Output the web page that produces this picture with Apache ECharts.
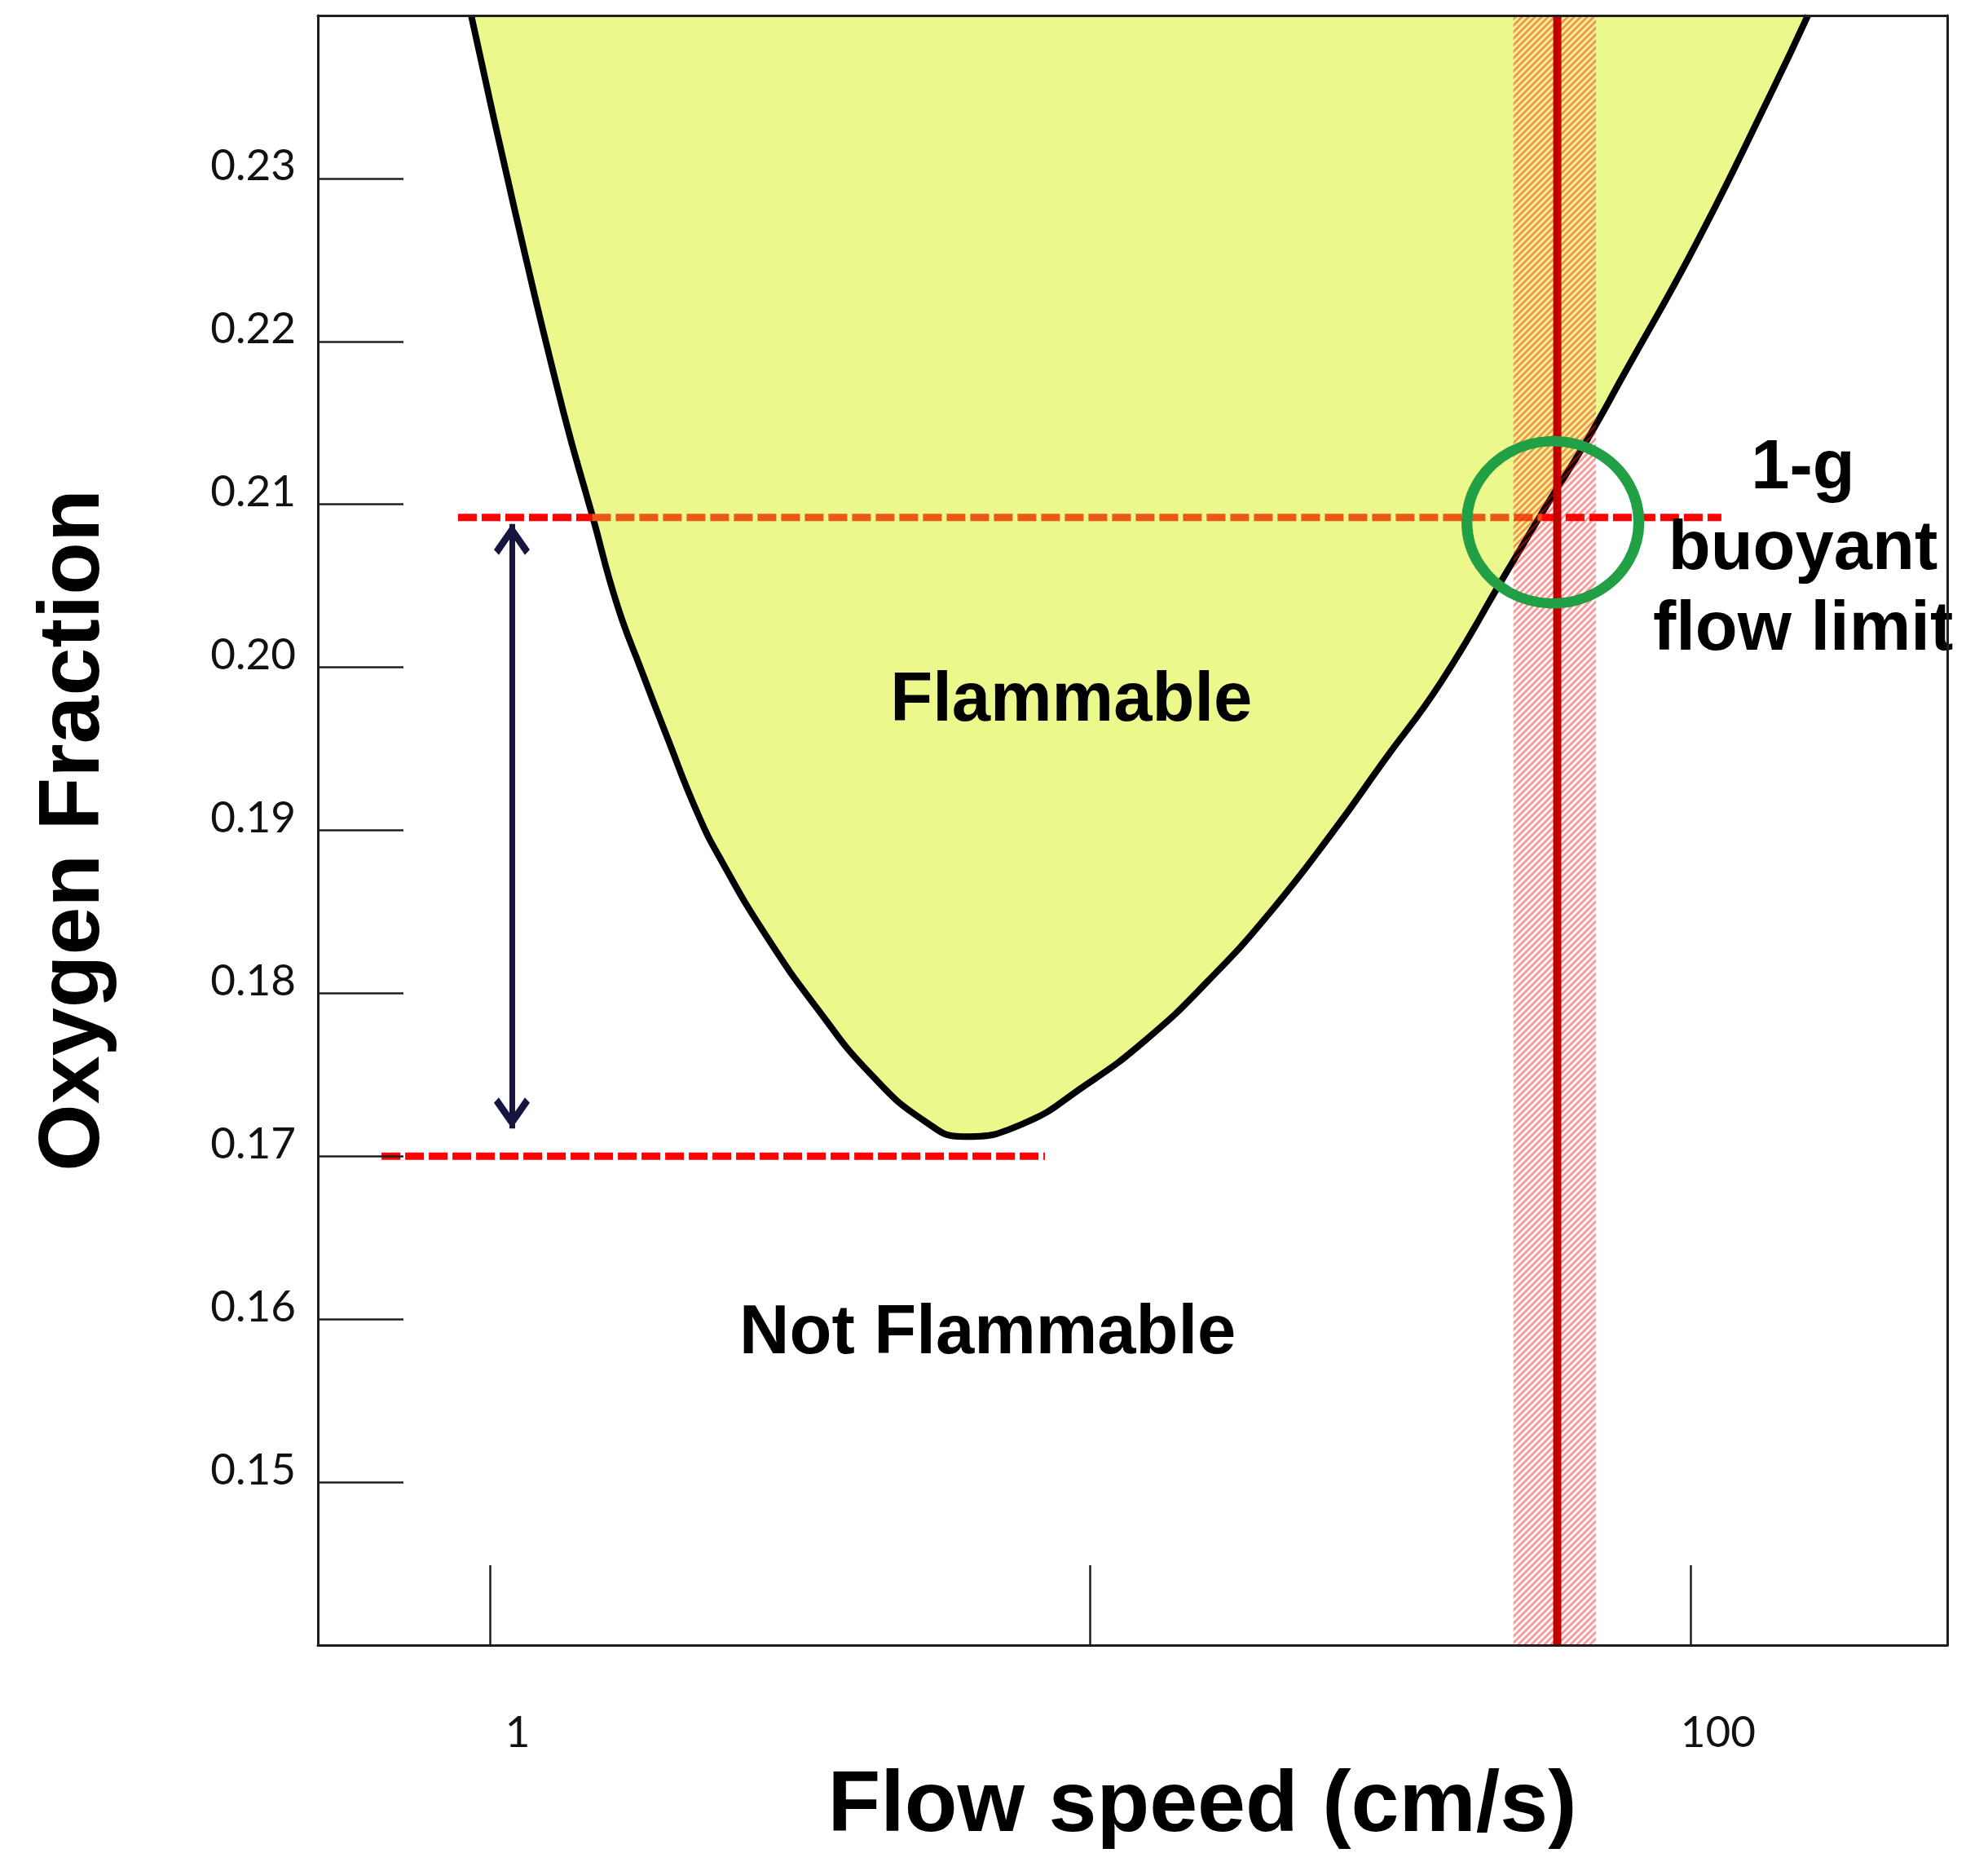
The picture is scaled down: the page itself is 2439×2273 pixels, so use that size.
<!DOCTYPE html>
<html>
<head>
<meta charset="utf-8">
<script src="https://cdn.jsdelivr.net/npm/echarts@6/dist/echarts.min.js"></script>
<style>
html,body{margin:0;padding:0;background:#ffffff;}
#chart{width:2439px;height:2273px;}
</style>
</head>
<body>
<div id="chart"></div>
<script>
// ---------------- data ----------------
// flammability boundary: flow speed (cm/s) and oxygen fraction
const curveSpeed = [0.931, 1.109, 1.321, 1.483, 1.629, 1.789, 1.965, 2.227, 2.438, 2.877, 3.504, 4.319, 5.326, 6.150,
                    7.679, 9.769, 12.39, 15.76, 19.98, 25.43, 30.77, 38.42, 49.33, 58.41, 67.03, 77.39, 101.9, 135.9, 156.9];
const curveO2    = [0.2400, 0.2275, 0.2159, 0.20925, 0.20385, 0.1998, 0.1959, 0.1909, 0.18805, 0.1836, 0.1791, 0.1750, 0.1721, 0.1712,
                    0.17195, 0.1743, 0.17715, 0.1808, 0.1850, 0.18995, 0.1942, 0.1991, 0.2058, 0.2103, 0.21385, 0.21795, 0.2259, 0.23515, 0.2400];

// upper dashed reference line (ambient O2): red outside the flammable zone, orange inside
const upperDashO2 = 0.2092;
const upperDashSpeed = [0.885, 1.48, 56.6, 112.6];
// lower dashed reference line (minimum O2)
const lowerDashO2 = 0.17;
const lowerDashSpeed = [0.66, 8.41];
// double arrow between the two levels
const arrowSpeed = 1.088;
const arrowO2 = [0.2088, 0.1717];
// 1-g buoyant flow limit and its uncertainty band
const buoyantSpeed = 60;
const buoyantBand = [50.7, 69.6];
// highlighted intersection
const circleSpeed = 59;
const circleO2 = 0.2089;
// annotations
const annotTexts = ['Flammable', 'Not Flammable', '1-g\nbuoyant\nflow limit'];
const annotSpeed = [9.3, 6.75, 154];
const annotO2 = [0.1982, 0.1594, 0.2075];
// axes
const xRange = [0.517, 267.8];
const xLabelValues = [1, 100];
const yRange = [0.14, 0.24];
const yStep = 0.01;

// ---------------- chart ----------------
const chart = echarts.init(document.getElementById('chart'), null, {renderer: 'svg', width: 2439, height: 2273});

const tickFont = 'Lato, "Open Sans", sans-serif';
const boldFont = '"Liberation Sans", Arial, sans-serif';
const axisColor = '#1e1e1e';

// diagonal hatch tile for the uncertainty band
function hatchTile() {
  const s = 8;
  const c = document.createElement('canvas');
  c.width = s; c.height = s;
  const ctx = c.getContext('2d');
  ctx.strokeStyle = 'rgba(255,20,20,0.45)';
  ctx.lineWidth = 2.8;
  ctx.lineCap = 'square';
  [0, s, 2 * s].forEach(k => {
    ctx.beginPath();
    ctx.moveTo(-s, k + s);
    ctx.lineTo(k + s, -s);
    ctx.stroke();
  });
  return c;
}
const hatch = hatchTile();

const curveData = curveSpeed.map((s, i) => [s, curveO2[i]]);
const seg = (a, b) => [[upperDashSpeed[a], upperDashO2], [upperDashSpeed[b], upperDashO2]];
const dashStyle = (color) => ({color: color, width: 9, type: [23, 6], cap: 'butt'});

const chevron = 'path://M22,0 L44,30 L38,36 L22,14 L6,36 L0,30 Z';

const option = {
  animation: false,
  backgroundColor: '#ffffff',
  grid: {left: 390, right: 50, top: 19, bottom: 255, containLabel: false, outerBoundsMode: 'none'},
  xAxis: [
    {
      type: 'log', logBase: 10, min: xRange[0], max: xRange[1], position: 'bottom', z: 10,
      axisLine: {show: true, onZero: false, lineStyle: {color: axisColor, width: 3}},
      axisTick: {show: true, inside: true, length: 98, lineStyle: {color: axisColor, width: 2.5}},
      axisLabel: {
        show: true, margin: 78, fontSize: 53, fontFamily: tickFont, color: '#111',
        padding: [0, 0, 0, 68],
        formatter: function (v) {
          const l = Math.log10(v);
          if (Math.abs(l - Math.round(l)) > 1e-6) return '';
          const r = Math.round(v);
          return xLabelValues.indexOf(r) >= 0 ? String(r) : '';
        }
      },
      splitLine: {show: false},
      name: 'Flow speed (cm/s)', nameLocation: 'middle', nameGap: 143,
      nameTextStyle: {fontSize: 106, fontWeight: 'bold', fontFamily: boldFont, color: '#000', lineHeight: 96, padding: [0, 0, 0, 171]}
    },
    {
      type: 'log', logBase: 10, min: xRange[0], max: xRange[1], position: 'top', z: 10,
      axisLine: {show: true, onZero: false, lineStyle: {color: axisColor, width: 3}},
      axisTick: {show: false}, axisLabel: {show: false}, splitLine: {show: false}
    }
  ],
  yAxis: [
    {
      type: 'value', min: yRange[0], max: yRange[1], interval: yStep, position: 'left', z: 10,
      axisLine: {show: true, onZero: false, lineStyle: {color: axisColor, width: 3}},
      axisTick: {show: true, inside: true, length: 105, lineStyle: {color: axisColor, width: 2.5}},
      axisLabel: {
        show: true, margin: 27, fontSize: 53, fontFamily: tickFont, color: '#111',
        verticalAlign: 'bottom', lineHeight: 36, showMinLabel: false, showMaxLabel: false,
        formatter: v => v.toFixed(2)
      },
      splitLine: {show: false},
      name: 'Oxygen Fraction', nameLocation: 'middle', nameGap: 253,
      nameTextStyle: {fontSize: 106, fontWeight: 'bold', fontFamily: boldFont, color: '#000'}
    },
    {
      type: 'value', min: yRange[0], max: yRange[1], interval: yStep, position: 'right', z: 10,
      axisLine: {show: true, onZero: false, lineStyle: {color: axisColor, width: 3}},
      axisTick: {show: false}, axisLabel: {show: false}, splitLine: {show: false}
    }
  ],
  series: [
    {
      name: 'boundary', type: 'line', data: curveData, z: 2,
      smooth: 0.5, smoothConstraint: false, symbol: 'none', silent: true,
      lineStyle: {color: '#000000', width: 8},
      areaStyle: {color: '#ecf78c', opacity: 1, origin: 'end'}
    },
    {
      name: 'upperDashA', type: 'line', data: seg(0, 1), z: 3, symbol: 'none', silent: true,
      lineStyle: dashStyle('#ff0000')
    },
    {
      name: 'upperDashB', type: 'line', data: seg(1, 2), z: 3, symbol: 'none', silent: true,
      lineStyle: dashStyle('#ea5a16')
    },
    {
      name: 'upperDashC', type: 'line', data: seg(2, 3), z: 3, symbol: 'none', silent: true,
      lineStyle: dashStyle('#ff0000')
    },
    {
      name: 'lowerDash', type: 'line', z: 3, symbol: 'none', silent: true,
      data: lowerDashSpeed.map(s => [s, lowerDashO2]),
      lineStyle: dashStyle('#ff0000'),
      markLine: {
        silent: true, z: 5, animation: false,
        symbol: [chevron, chevron], symbolSize: [44, 38], symbolOffset: [[0, 19], [0, 19]],
        label: {show: false},
        lineStyle: {color: '#16153f', width: 7, type: 'solid'},
        emphasis: {disabled: true},
        data: [[{coord: [arrowSpeed, arrowO2[0]]}, {coord: [arrowSpeed, arrowO2[1]]}]]
      }
    },
    {
      name: 'buoyantLimit', type: 'line', z: 5, symbol: 'none', silent: true,
      data: [[buoyantSpeed, yRange[0]], [buoyantSpeed, yRange[1]]],
      lineStyle: {color: '#c00000', width: 10},
      markArea: {
        silent: true, z: 4,
        itemStyle: {
          color: {image: hatch, repeat: 'repeat', imageWidth: 8, imageHeight: 8},
          opacity: 1
        },
        data: [[{xAxis: buoyantBand[0]}, {xAxis: buoyantBand[1]}]]
      }
    },
    {
      name: 'intersection', type: 'scatter', z: 6, silent: true,
      data: [[circleSpeed, circleO2]],
      symbol: 'circle', symbolSize: [211, 199],
      itemStyle: {color: 'rgba(0,0,0,0)', borderColor: '#22a046', borderWidth: 13, opacity: 1}
    },
    {
      name: 'annotations', type: 'scatter', z: 7, silent: true,
      data: annotTexts.map((t, i) => ({name: t, value: [annotSpeed[i], annotO2[i]]})),
      symbol: 'circle', symbolSize: 1,
      itemStyle: {color: 'rgba(0,0,0,0)', opacity: 1},
      label: {
        show: true, position: 'inside', formatter: '{b}', opacity: 1,
        fontSize: 85, fontWeight: 'bold', fontFamily: boldFont, color: '#000000',
        textBorderWidth: 0, lineHeight: 99, align: 'center', verticalAlign: 'middle'
      }
    }
  ]
};
chart.setOption(option);
</script>
</body>
</html>
